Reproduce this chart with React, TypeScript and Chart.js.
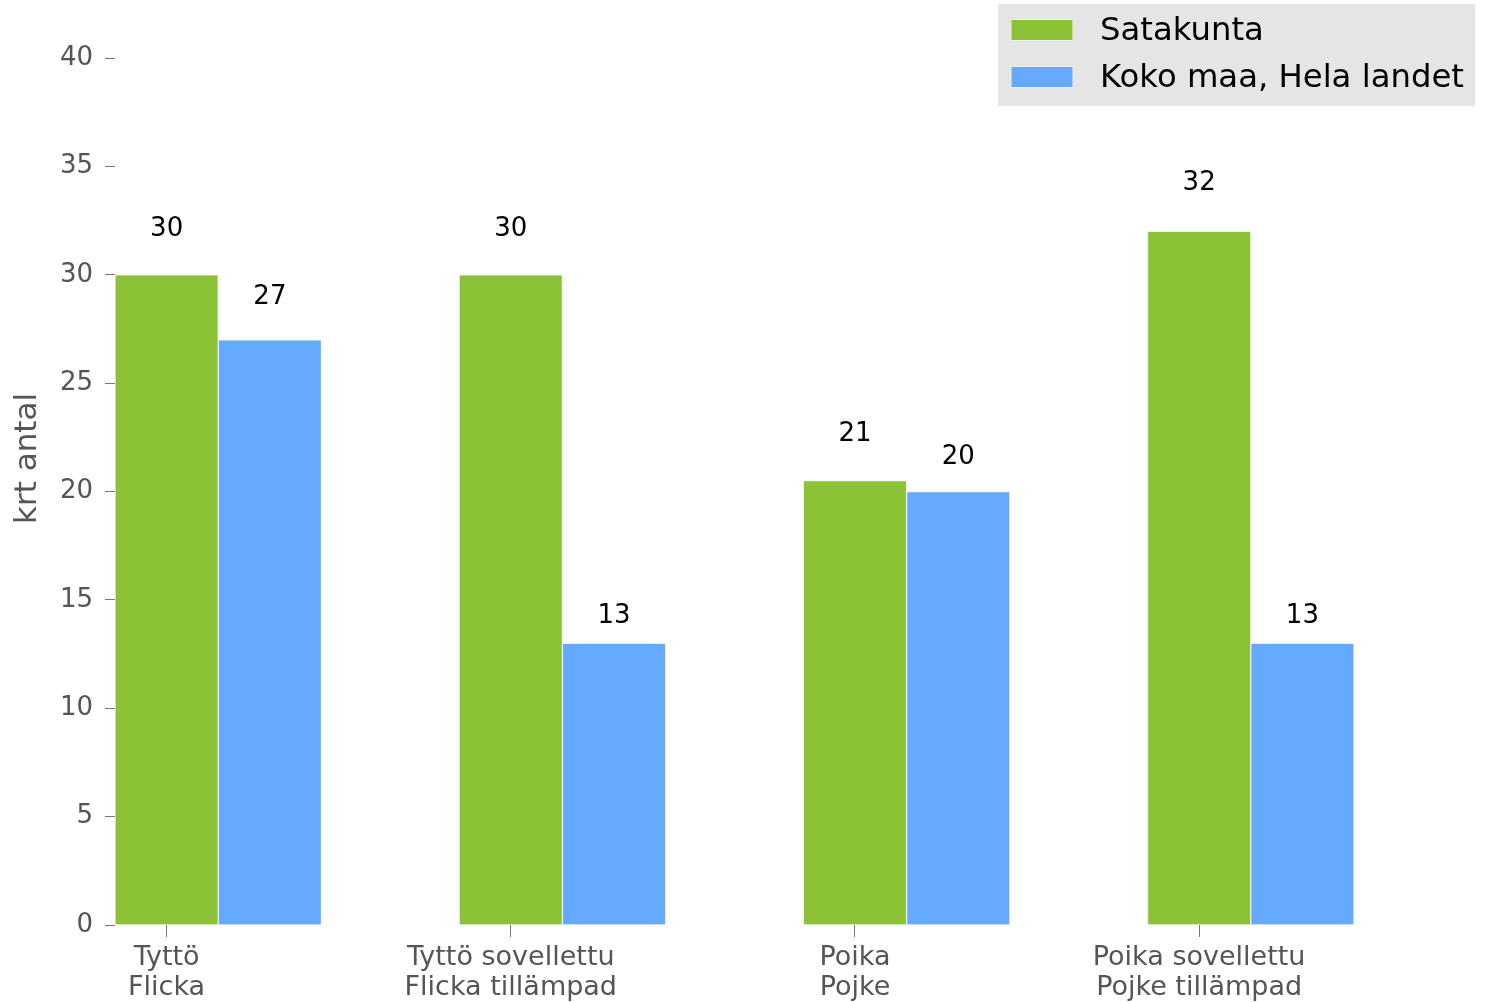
import React, { useEffect, useRef } from "react";
import { Chart, registerables } from "chart.js";

Chart.register(...registerables);

const categories: string[][] = [
  ["Tyttö", "Flicka"],
  ["Tyttö sovellettu", "Flicka tillämpad"],
  ["Poika", "Pojke"],
  ["Poika sovellettu", "Pojke tillämpad"],
];
const seriesNames = ["Satakunta", "Koko maa, Hela landet"];
const satakunta = [30, 30, 20.5, 32];
const kokoMaa = [27, 13, 20, 13];
const yTicks = [0, 5, 10, 15, 20, 25, 30, 35, 40];
const yTitle = "krt antal";

const GREEN = "#8bc236";
const BLUE = "#66aaff";
const FONT = "'DejaVu Sans', sans-serif";
const GRAY = "#555555";

const barOffset = 0.3;

const labelsPlugin = {
  id: "valueLabels",
  afterDatasetsDraw(chart: any) {
    const ctx = chart.ctx;
    const yScale = chart.scales.y;
    ctx.save();
    ctx.font = `26px ${FONT}`;
    ctx.fillStyle = "#000";
    ctx.textAlign = "center";
    ctx.textBaseline = "bottom";
    chart.data.datasets.forEach((ds: any, di: number) => {
      const meta = chart.getDatasetMeta(di);
      meta.data.forEach((el: any, i: number) => {
        const v = Math.round(ds.data[i].y);
        ctx.fillText(String(v), el.x, yScale.getPixelForValue(v * 1.05));
      });
    });
    ctx.restore();
  },
};

const legendPlugin = {
  id: "customLegend",
  afterDraw(chart: any) {
    const ctx = chart.ctx;
    const W = chart.width;
    ctx.save();
    const bx = W - 488, by = 4, bw = 477, bh = 102;
    ctx.fillStyle = "#e5e5e5";
    ctx.fillRect(bx, by, bw, bh);
    ctx.font = `32.3px ${FONT}`;
    ctx.textBaseline = "middle";
    ctx.textAlign = "left";
    chart.data.datasets.forEach((ds: any, i: number) => {
      const cy = by + 26 + i * 47;
      ctx.fillStyle = ds.backgroundColor;
      ctx.fillRect(bx + 13, cy - 10.5, 62, 21);
      ctx.strokeStyle = "#eeeeee";
      ctx.lineWidth = 1;
      ctx.strokeRect(bx + 13, cy - 10.5, 62, 21);
      ctx.fillStyle = "#000";
      ctx.fillText(ds.label, bx + 102, cy + 2);
    });
    ctx.restore();
  },
};

const yTitlePlugin = {
  id: "yTitle",
  afterDraw(chart: any) {
    const ctx = chart.ctx;
    const area = chart.chartArea;
    ctx.save();
    ctx.translate(28, (area.top + area.bottom) / 2 - 33);
    ctx.rotate(-Math.PI / 2);
    ctx.font = `31px ${FONT}`;
    ctx.fillStyle = GRAY;
    ctx.textAlign = "center";
    ctx.textBaseline = "middle";
    ctx.fillText(yTitle, 0, 0);
    ctx.restore();
  },
};

export default function App() {
  const ref = useRef<HTMLCanvasElement | null>(null);
  useEffect(() => {
    if (!ref.current) return;
    const chart = new Chart(ref.current, {
      type: "bar",
      data: {
        datasets: [
          {
            label: seriesNames[0],
            data: satakunta.map((v, i) => ({ x: i, y: v })),
            backgroundColor: GREEN,
            borderColor: "#eeeeee",
            borderWidth: 1,
          },
          {
            label: seriesNames[1],
            data: kokoMaa.map((v, i) => ({ x: i + barOffset, y: v })),
            backgroundColor: BLUE,
            borderColor: "#eeeeee",
            borderWidth: 1,
          },
        ],
      },
      options: {
        responsive: false,
        animation: false,
        grouped: false,
        barPercentage: 1,
        categoryPercentage: 1,
        layout: { padding: { left: 0, right: 132, top: 58, bottom: 0 } },
        plugins: { legend: { display: false }, tooltip: { enabled: false } },
        scales: {
          x: {
            type: "linear",
            min: -barOffset / 2,
            max: categories.length - 1 + barOffset * 1.5,
            offset: false,
            border: { display: false },
            grid: {
              offset: false,
              drawOnChartArea: false,
              drawTicks: true,
              tickLength: 12,
              color: "#777777",
            },
            afterBuildTicks: (scale: any) => {
              scale.ticks = categories.map((_, i) => ({ value: i }));
            },
            afterFit: (scale: any) => {
              scale.height = 77;
            },
            ticks: {
              autoSkip: false,
              maxRotation: 0,
              padding: 6,
              color: GRAY,
              font: { family: FONT, size: 27, lineHeight: 1.11 },
              callback: (_v: any, i: number) => categories[i],
            },
          },
          y: {
            min: yTicks[0],
            max: yTicks[yTicks.length - 1],
            border: { display: false },
            grid: {
              drawOnChartArea: false,
              drawTicks: true,
              tickLength: 10,
              color: "#777777",
            },
            afterBuildTicks: (scale: any) => {
              scale.ticks = yTicks.map((v) => ({ value: v }));
            },
            afterFit: (scale: any) => {
              scale.width = 115;
            },
            ticks: {
              padding: 12,
              color: GRAY,
              font: { family: FONT, size: 26 },
            },
          },
        },
      },
      plugins: [labelsPlugin, legendPlugin, yTitlePlugin],
    } as any);
    return () => chart.destroy();
  }, []);
  return (
    <div style={{ position: "absolute", left: 0, top: 0, width: 1486, height: 1002, background: "#fff" }}>
      <canvas ref={ref} width={1486} height={1002} />
    </div>
  );
}
